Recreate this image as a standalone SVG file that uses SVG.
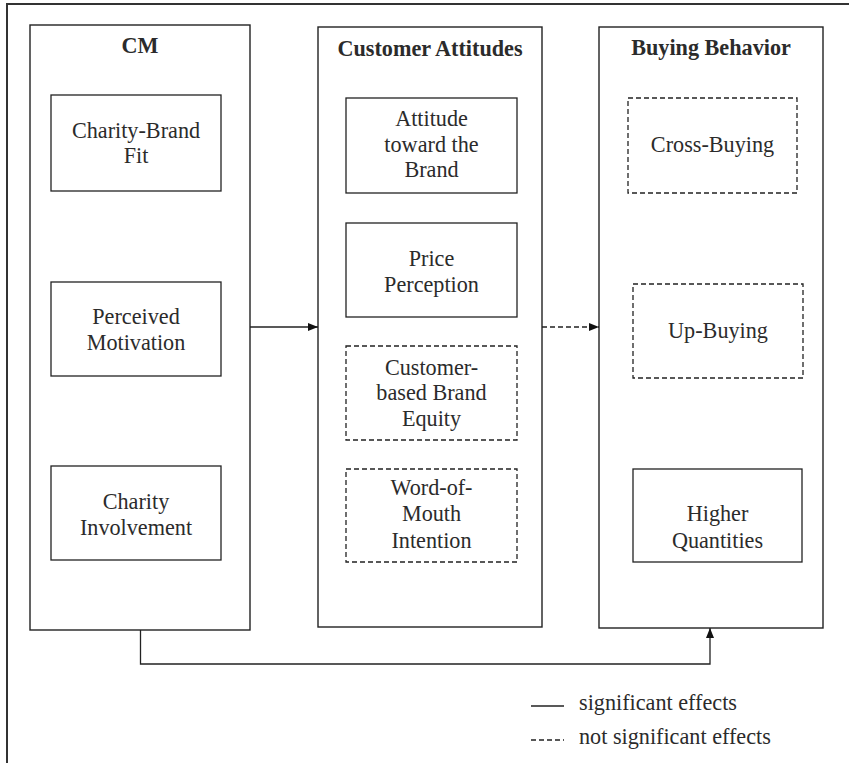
<svg xmlns="http://www.w3.org/2000/svg" width="849" height="763" viewBox="0 0 849 763">
<defs>
<style>
text{font-family:"Liberation Serif","Times New Roman",serif;font-size:24px;fill:#2b2b2b;text-anchor:middle}
.t{font-weight:bold}
.l{text-anchor:start}
.panel{fill:none;stroke:#222;stroke-width:1.4}
.box{fill:none;stroke:#222;stroke-width:1.3}
.dash{stroke-dasharray:5 3}
.conn{fill:none;stroke:#222;stroke-width:1.3}
</style>
<marker id="ah" viewBox="0 0 10 10" refX="10" refY="5" markerWidth="10" markerHeight="10" markerUnits="userSpaceOnUse" orient="auto">
<path d="M0,1 L10,5 L0,9 Z" fill="#111"/>
</marker>
</defs>
<rect width="849" height="763" fill="#fff"/>
<path d="M7,763 V4 H849" fill="none" stroke="#333" stroke-width="2"/>

<g id="cm">
<rect class="panel" x="30" y="25" width="220" height="605"/>
<text class="t" transform="translate(140 53) scale(.925 1)">CM</text>
</g>
<g id="charity-brand-fit">
<rect class="box" x="51" y="95" width="170" height="96"/>
<text transform="translate(136 138) scale(.925 1)">Charity-Brand</text>
<text transform="translate(136 163) scale(.925 1)">Fit</text>
</g>
<g id="perceived-motivation">
<rect class="box" x="51" y="282" width="170" height="94"/>
<text transform="translate(136 324) scale(.925 1)">Perceived</text>
<text transform="translate(136 350) scale(.925 1)">Motivation</text>
</g>
<g id="charity-involvement">
<rect class="box" x="51" y="466" width="170" height="94"/>
<text transform="translate(136 509) scale(.925 1)">Charity</text>
<text transform="translate(136 535) scale(.925 1)">Involvement</text>
</g>

<g id="customer-attitudes">
<rect class="panel" x="318" y="27" width="224" height="600"/>
<text class="t" transform="translate(430 56) scale(.925 1)">Customer Attitudes</text>
</g>
<g id="attitude-brand">
<rect class="box" x="346" y="98" width="171" height="95"/>
<text transform="translate(431.5 126) scale(.925 1)">Attitude</text>
<text transform="translate(431.5 152) scale(.925 1)">toward the</text>
<text transform="translate(431.5 177) scale(.925 1)">Brand</text>
</g>
<g id="price-perception">
<rect class="box" x="346" y="223" width="171" height="94"/>
<text transform="translate(431.5 266) scale(.925 1)">Price</text>
<text transform="translate(431.5 292) scale(.925 1)">Perception</text>
</g>
<g id="brand-equity">
<rect class="box dash" x="346" y="346" width="171" height="94"/>
<text transform="translate(431.5 375) scale(.925 1)">Customer-</text>
<text transform="translate(431.5 400) scale(.925 1)">based Brand</text>
<text transform="translate(431.5 426) scale(.925 1)">Equity</text>
</g>
<g id="word-of-mouth">
<rect class="box dash" x="346" y="469" width="171" height="93"/>
<text transform="translate(431.5 495) scale(.925 1)">Word-of-</text>
<text transform="translate(431.5 521) scale(.925 1)">Mouth</text>
<text transform="translate(431.5 548) scale(.925 1)">Intention</text>
</g>

<g id="buying-behavior">
<rect class="panel" x="599" y="27" width="224" height="601" stroke-width="2"/>
<text class="t" transform="translate(711 55) scale(.925 1)">Buying Behavior</text>
</g>
<g id="cross-buying">
<rect class="box dash" x="628" y="98" width="169" height="95"/>
<text transform="translate(712.5 152) scale(.925 1)">Cross-Buying</text>
</g>
<g id="up-buying">
<rect class="box dash" x="633" y="284" width="170" height="94"/>
<text transform="translate(718 338) scale(.925 1)">Up-Buying</text>
</g>
<g id="higher-quantities">
<rect class="box" x="633" y="469" width="169" height="93"/>
<text transform="translate(717.5 521) scale(.925 1)">Higher</text>
<text transform="translate(717.5 548) scale(.925 1)">Quantities</text>
</g>

<g id="connectors">
<line class="conn" x1="250" y1="327" x2="318" y2="327" marker-end="url(#ah)"/>
<line class="conn dash" x1="542" y1="327" x2="599" y2="327" marker-end="url(#ah)"/>
<path class="conn" d="M140.5,630 V664 H710 V628" marker-end="url(#ah)"/>
</g>

<g id="legend">
<line x1="531" y1="706" x2="564" y2="706" stroke="#222" stroke-width="1.6"/>
<text class="l" transform="translate(579 710) scale(.925 1)">significant effects</text>
<line x1="531" y1="740" x2="564" y2="740" stroke="#222" stroke-width="1.3" stroke-dasharray="5 3"/>
<text class="l" transform="translate(579 744) scale(.925 1)">not significant effects</text>
</g>
</svg>
